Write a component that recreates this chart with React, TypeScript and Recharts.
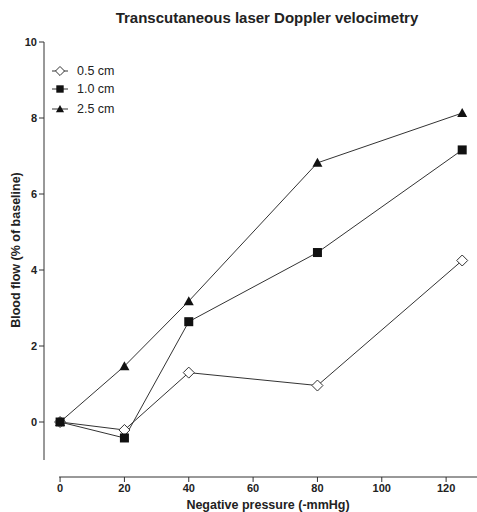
import React from 'react';
import { LineChart, Line, XAxis, YAxis, ReferenceLine, Customized } from 'recharts';

const pressures = [0, 20, 40, 80, 125];
const flow05 = [0, -0.21, 1.3, 0.96, 4.25];
const flow10 = [0, -0.42, 2.64, 4.46, 7.16];
const flow25 = [0, 1.47, 3.18, 6.82, 8.13];
const xTicks = [0, 20, 40, 60, 80, 100, 120];
const yTicks = [0, 2, 4, 6, 8, 10];
const seriesNames = ['0.5 cm', '1.0 cm', '2.5 cm'];

const data = pressures.map((p, i) => ({ p, a: flow05[i], b: flow10[i], c: flow25[i] }));

const LINE = '#333';
const FONT = '"Liberation Sans", Arial, sans-serif';

const Diamond = ({ cx, cy, s = 1 }: any) => (
  <path d={`M${cx},${cy - 5.5 * s} L${cx + 5.5 * s},${cy} L${cx},${cy + 5.5 * s} L${cx - 5.5 * s},${cy} Z`} fill="#fff" stroke={LINE} strokeWidth={1} />
);
const Square = ({ cx, cy, s = 1 }: any) => (
  <rect x={cx - 4.5 * s} y={cy - 4.5 * s} width={9 * s} height={9 * s} fill="#111" />
);
const Triangle = ({ cx, cy, s = 1 }: any) => (
  <path d={`M${cx},${cy - 5 * s} L${cx + 5 * s},${cy + 4 * s} L${cx - 5 * s},${cy + 4 * s} Z`} fill="#111" />
);

const shapes = [Diamond, Square, Triangle];
const legendRowTops = [64, 82, 102];

const LegendBox = () => (
  <div style={{ position: 'absolute', left: 50, top: 0, fontFamily: FONT, fontSize: 12.5, color: '#222' }}>
    {seriesNames.map((n, i) => {
      const S = shapes[i];
      return (
        <div key={n} style={{ position: 'absolute', top: legendRowTops[i], left: 0, display: 'flex', alignItems: 'center', height: 14, whiteSpace: 'nowrap' }}>
          <svg width={20} height={14} style={{ marginRight: 7 }}>
            <line x1={2} y1={7} x2={18} y2={7} stroke={LINE} strokeWidth={1} />
            <S cx={10} cy={7} s={0.82} />
          </svg>
          <span>{n}</span>
        </div>
      );
    })}
  </div>
);

const Texts = () => (
  <g fontFamily={FONT} fontWeight="bold" fill="#222">
    <text x={267} y={23} textAnchor="middle" fontSize={15}>Transcutaneous laser Doppler velocimetry</text>
    <text x={268} y={509} textAnchor="middle" fontSize={12.5}>Negative pressure (-mmHg)</text>
    <text transform="translate(20,250) rotate(-90)" textAnchor="middle" fontSize={12.5}>Blood flow (% of baseline)</text>
  </g>
);

export default function App() {
  return (
    <div style={{ position: 'relative', width: 477, height: 512 }}>
      <style>{'body{margin:0;overflow:hidden}'}</style>
      <LineChart width={477} height={512} data={data} margin={{ top: 42, right: 0, bottom: 0, left: 0 }}>
        <XAxis
          dataKey="p"
          type="number"
          domain={[-5, 129.6]}
          allowDataOverflow
          ticks={xTicks}
          axisLine={false}
          tickLine={{ stroke: LINE }}
          tickSize={5}
          height={35}
          interval={0}
          tick={{ fontFamily: FONT, fontSize: 11, fontWeight: 'bold', fill: '#222' }}
        />
        <YAxis
          type="number"
          domain={[-1.447, 10]}
          allowDataOverflow
          ticks={yTicks}
          axisLine={false}
          tickLine={{ stroke: LINE }}
          tickSize={5}
          width={44}
          interval={0}
          tick={{ fontFamily: FONT, fontSize: 11, fontWeight: 'bold', fill: '#222' }}
        />
        <ReferenceLine segment={[{ x: -5, y: -1 }, { x: -5, y: 10 }]} stroke={LINE} strokeWidth={1} ifOverflow="visible" />
        <ReferenceLine segment={[{ x: -0.3, y: -1.447 }, { x: 129.6, y: -1.447 }]} stroke={LINE} strokeWidth={1} ifOverflow="visible" />
        <Line dataKey="a" name={seriesNames[0]} stroke={LINE} strokeWidth={1} isAnimationActive={false} dot={(p: any) => <Diamond key={p.index} cx={p.cx} cy={p.cy} />} />
        <Line dataKey="b" name={seriesNames[1]} stroke={LINE} strokeWidth={1} isAnimationActive={false} dot={(p: any) => <Square key={p.index} cx={p.cx} cy={p.cy} />} />
        <Line dataKey="c" name={seriesNames[2]} stroke={LINE} strokeWidth={1} isAnimationActive={false} dot={(p: any) => <Triangle key={p.index} cx={p.cx} cy={p.cy} />} />
        <Customized component={Texts} />
      </LineChart>
      <LegendBox />
    </div>
  );
}
